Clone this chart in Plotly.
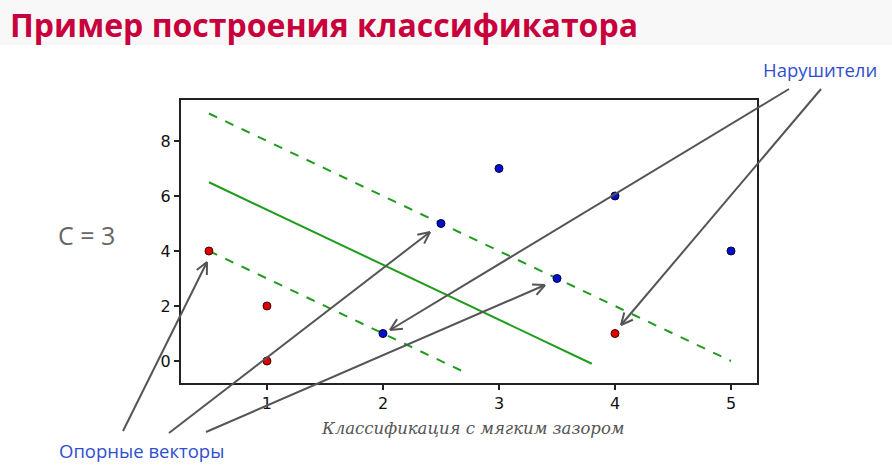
import math
import plotly.graph_objects as go

# ---- data ----
red_x = [0.5, 1, 1, 4]
red_y = [4, 2, 0, 1]
blue_x = [2, 2.5, 3, 3.5, 4, 5]
blue_y = [1, 5, 7, 3, 6, 4]
upper_margin_x = [0.5, 5.0]
upper_margin_y = [9.0, 0.0]
boundary_x = [0.5, 3.8]
boundary_y = [6.5, -0.1]
lower_margin_x = [0.5, 2.7]
lower_margin_y = [4.0, -0.4]
x_ticks = [1, 2, 3, 4, 5]
y_ticks = [0, 2, 4, 6, 8]

W, H = 892, 470
L, R, T, B = 181, 757, 100, 383

fig = go.Figure()
green = "#1f9c1c"
fig.add_trace(go.Scatter(x=upper_margin_x, y=upper_margin_y, mode="lines",
                         line=dict(color=green, width=2, dash="dash")))
fig.add_trace(go.Scatter(x=boundary_x, y=boundary_y, mode="lines",
                         line=dict(color=green, width=2)))
fig.add_trace(go.Scatter(x=lower_margin_x, y=lower_margin_y, mode="lines",
                         line=dict(color=green, width=2, dash="dash")))
fig.add_trace(go.Scatter(x=red_x, y=red_y, mode="markers",
                         marker=dict(color="#e00000", size=8, line=dict(color="#400000", width=1))))
fig.add_trace(go.Scatter(x=blue_x, y=blue_y, mode="markers",
                         marker=dict(color="#0010c8", size=8, line=dict(color="#000040", width=1))))

def px2paper(px, py):
    return (px - L) / (R - L), (B - py) / (B - T)

shapes = []
# light title band
shapes.append(dict(type="rect", xref="paper", yref="paper",
                   x0=px2paper(0, 0)[0], x1=px2paper(W, 0)[0],
                   y0=px2paper(0, 45)[1], y1=px2paper(0, 0)[1],
                   fillcolor="#f8f8f8", line=dict(width=0), layer="below"))

arrows = [((123, 431), (207, 262)), ((169, 433), (430, 232)), ((206, 432), (545, 285)),
          ((789, 89), (390, 330)), ((821, 89), (621, 325))]
acol = "#555555"
for (tx, ty), (hx, hy) in arrows:
    x0, y0 = px2paper(tx, ty)
    x1, y1 = px2paper(hx, hy)
    shapes.append(dict(type="line", xref="paper", yref="paper", x0=x0, y0=y0, x1=x1, y1=y1,
                       line=dict(color=acol, width=2)))
    ang = math.atan2(hy - ty, hx - tx)
    for d in (0.45, -0.45):
        a = ang + math.pi + d
        ex, ey = hx + 13 * math.cos(a), hy + 13 * math.sin(a)
        e0, e1 = px2paper(ex, ey)
        shapes.append(dict(type="line", xref="paper", yref="paper", x0=x1, y0=y1, x1=e0, y1=e1,
                           line=dict(color=acol, width=2)))

annotations = []
def add_text(px, py, text, size, color, family, anchor="center", weight=None):
    x, y = px2paper(px, py)
    f = dict(size=size, color=color, family=family)
    if weight:
        f["weight"] = weight
    annotations.append(dict(xref="paper", yref="paper", x=x, y=y, text=text, showarrow=False,
                            xanchor=anchor, yanchor="middle", font=f))

add_text(8, 24, "Пример построения классификатора", 32, "#c8003c", "Open Sans", "left", "bold")
add_text(86, 235, "C = 3", 25, "#666666", "Open Sans")
add_text(820, 70, "Нарушители", 18.5, "#2f4fd0", "Open Sans")
add_text(141, 450, "Опорные векторы", 18.5, "#2f4fd0", "Open Sans")
add_text(473, 428, "<i>Классификация с мягким зазором</i>", 16.5, "#555555", "DejaVu Serif")

tick_font = dict(family="DejaVu Sans", size=16, color="#111")
fig.update_layout(
    width=W, height=H, margin=dict(l=L, r=W - R, t=T, b=H - B),
    paper_bgcolor="white", plot_bgcolor="white", showlegend=False,
    shapes=shapes, annotations=annotations,
)
fig.update_xaxes(range=[0.259, 5.224], tickvals=x_ticks, showgrid=False, zeroline=False,
                 showline=True, linecolor="#222", linewidth=2, mirror=True, tickfont=tick_font,
                 ticks="outside", ticklen=5, tickwidth=2, tickcolor="#222")
fig.update_yaxes(range=[-0.8, 9.49], tickvals=y_ticks, showgrid=False, zeroline=False,
                 showline=True, linecolor="#222", linewidth=2, mirror=True, tickfont=tick_font,
                 ticks="outside", ticklen=5, tickwidth=2, tickcolor="#222")
fig.write_html("out.html")
